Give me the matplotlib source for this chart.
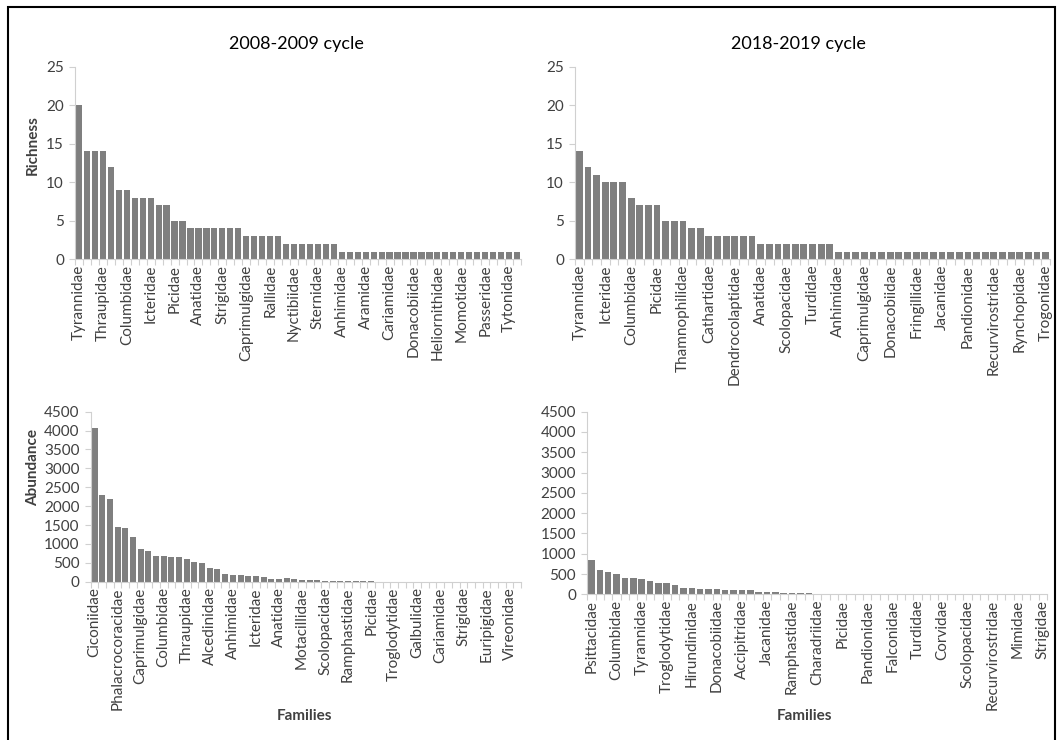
import matplotlib
matplotlib.use("Agg")
import matplotlib.pyplot as plt
from matplotlib.patches import Rectangle
import numpy as np

plt.rcParams['font.family'] = ['Lato', 'DejaVu Sans']

# richness per family, 2008-2009 (56 families)
rich_0809 = [20, 14, 14, 14, 12, 9, 9, 8, 8, 8, 7, 7, 5, 5,
             4, 4, 4, 4, 4, 4, 4, 3, 3, 3, 3, 3,
             2, 2, 2, 2, 2, 2, 2] + [1] * 23
rich_0809_labels = ['Tyrannidae', 'Thraupidae', 'Columbidae', 'Icteridae', 'Picidae',
                    'Anatidae', 'Strigidae', 'Caprimulgidae', 'Rallidae', 'Nyctibiidae',
                    'Sternidae', 'Anhimidae', 'Aramidae', 'Cariamidae', 'Donacobiidae',
                    'Heliornithidae', 'Momotidae', 'Passeridae', 'Tytonidae']

# richness per family, 2018-2019 (55 families)
rich_1819 = [14, 12, 11, 10, 10, 10, 8, 7, 7, 7, 5, 5, 5, 4, 4,
             3, 3, 3, 3, 3, 3,
             2, 2, 2, 2, 2, 2, 2, 2, 2] + [1] * 25
rich_1819_labels = ['Tyrannidae', 'Icteridae', 'Columbidae', 'Picidae', 'Thamnophilidae',
                    'Cathartidae', 'Dendrocolaptidae', 'Anatidae', 'Scolopacidae', 'Turdidae',
                    'Anhimidae', 'Caprimulgidae', 'Donacobiidae', 'Fringillidae', 'Jacanidae',
                    'Pandionidae', 'Recurvirostridae', 'Rynchopidae', 'Trogonidae']

# abundance per family, 2008-2009
abund_0809 = [4080, 2290, 2200, 1460, 1410, 1190, 860, 815, 680, 680,
              665, 655, 595, 520, 490, 375, 330, 200, 175, 165,
              150, 150, 125, 80, 60, 85, 60, 45, 40, 35,
              30, 25, 22, 18, 8, 7, 6, 5, 5, 4,
              4, 3, 3, 3, 2, 2, 2, 2, 2, 1,
              1, 1, 1, 1, 1, 1]
abund_0809_labels = ['Ciconiidae', 'Phalacrocoracidae', 'Caprimulgidae', 'Columbidae',
                     'Thraupidae', 'Alcedinidae', 'Anhimidae', 'Icteridae', 'Anatidae',
                     'Motacillidae', 'Scolopacidae', 'Ramphastidae', 'Picidae',
                     'Troglodytidae', 'Galbulidae', 'Cariamidae', 'Strigidae',
                     'Euripigidae', 'Vireonidae']

# abundance per family, 2018-2019
abund_1819 = [840, 590, 550, 510, 410, 410, 375, 340, 275, 275,
              235, 165, 150, 133, 133, 133, 108, 108, 108, 108,
              58, 58, 58, 42, 42, 42, 25, 17, 15, 10,
              6, 5, 5, 4, 4, 4, 3, 3, 3, 3,
              2, 2, 2, 2, 2, 1, 1, 1, 1, 1,
              1, 1, 1, 1, 1]
abund_1819_labels = ['Psittacidae', 'Columbidae', 'Tyrannidae', 'Troglodytidae',
                     'Hirundinidae', 'Donacobiidae', 'Accipitridae', 'Jacanidae',
                     'Ramphastidae', 'Charadriidae', 'Picidae', 'Pandionidae',
                     'Falconidae', 'Turdidae', 'Corvidae', 'Scolopacidae',
                     'Recurvirostridae', 'Mimidae', 'Strigidae']

W, H = 1061, 740
fig = plt.figure(figsize=(W / 100, H / 100), dpi=100)


def px_axes(x0, x1, y_top, y_bot):
    return fig.add_axes([x0 / W, 1 - y_bot / H, (x1 - x0) / W, (y_bot - y_top) / H])


def draw_panel(ax, values, labels, ymax, ystep):
    n = len(values)
    x = np.arange(n)
    ax.bar(x, values, width=0.78, color='#7f7f7f', zorder=2)
    ax.set_xlim(-0.5, n - 0.5)
    ax.set_ylim(0, ymax)
    ax.set_yticks(np.arange(0, ymax + 1, ystep))
    ax.set_xticks(x[::3][:len(labels)])
    ax.set_xticklabels(labels, rotation=90, fontsize=11, color='#404040')
    ax.set_xticks(np.arange(n + 1) - 0.5, minor=True)
    ax.tick_params(axis='x', which='major', length=0, pad=4)
    ax.tick_params(axis='x', which='minor', length=4, color='#d0d0d0', width=0.8)
    ax.tick_params(axis='y', length=4, color='#d0d0d0', width=0.8, labelsize=11,
                   labelcolor='#404040', pad=4)
    for s in ['top', 'right']:
        ax.spines[s].set_visible(False)
    for s in ['left', 'bottom']:
        ax.spines[s].set_color('#d0d0d0')
        ax.spines[s].set_linewidth(0.8)


ax1 = px_axes(75, 521, 66.7, 259.3)
draw_panel(ax1, rich_0809, rich_0809_labels, 25, 5)
ax2 = px_axes(575, 1050, 66.7, 259.3)
draw_panel(ax2, rich_1819, rich_1819_labels, 25, 5)
ax3 = px_axes(90.7, 521, 411.7, 581.7)
draw_panel(ax3, abund_0809, abund_0809_labels, 4500, 500)
ax4 = px_axes(587.3, 1047, 411.7, 594.3)
draw_panel(ax4, abund_1819, abund_1819_labels, 4500, 500)

fig.text(296 / W, 1 - 44 / H, '2008-2009 cycle', ha='center', va='center', fontsize=13)
fig.text(798 / W, 1 - 44 / H, '2018-2019 cycle', ha='center', va='center', fontsize=13)
fig.text(33 / W, 1 - 145 / H, 'Richness', rotation=90, ha='center', va='center',
         fontsize=11, fontweight='bold', color='#404040')
fig.text(33 / W, 1 - 468 / H, 'Abundance', rotation=90, ha='center', va='center',
         fontsize=11, fontweight='bold', color='#404040')
fig.text(305 / W, 1 - 716 / H, 'Families', ha='center', va='center',
         fontsize=11, fontweight='bold', color='#404040')
fig.text(805 / W, 1 - 716 / H, 'Families', ha='center', va='center',
         fontsize=11, fontweight='bold', color='#404040')

# outer frame (bottom edge falls outside the picture)
fig.patches.append(Rectangle((8 / W, -0.02), (1055 - 8) / W, 1.02 - 7 / H,
                             transform=fig.transFigure, fill=False,
                             edgecolor='black', linewidth=1.5))

fig.savefig('out.png', dpi=100)
